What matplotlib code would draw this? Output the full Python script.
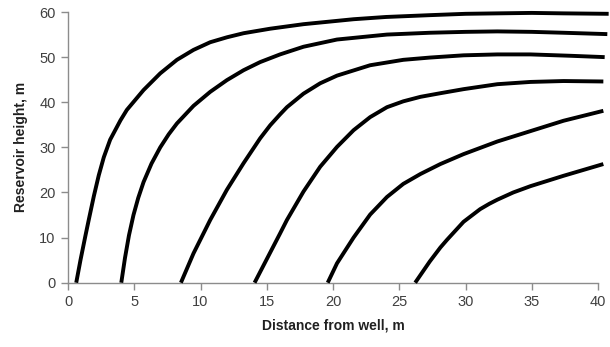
import matplotlib
matplotlib.use("Agg")
import matplotlib.pyplot as plt

# Distance from well (m) and reservoir height (m) for six curves
x1 = [0.62, 0.94, 1.32, 1.57, 1.95, 2.32, 2.70, 3.18, 3.96, 4.44, 5.70, 6.96, 8.22,
      9.47, 10.73, 12.0, 13.25, 15.26, 17.77, 21.55, 24.0, 27.3, 30.0, 32.4, 35.0, 37.4, 40.8]
y1 = [0.0, 5.0, 10.5, 14.0, 19.2, 23.8, 27.8, 31.7, 36.0, 38.3, 42.7, 46.4, 49.4,
      51.6, 53.3, 54.4, 55.3, 56.3, 57.3, 58.4, 58.9, 59.3, 59.6, 59.7, 59.8, 59.7, 59.6]

x2 = [4.02, 4.3, 4.6, 4.94, 5.3, 5.70, 6.3, 6.96, 7.6, 8.22, 9.47, 10.73, 11.99, 13.25,
      14.5, 16.0, 17.77, 20.3, 24.07, 27.3, 30.0, 32.4, 35.0, 37.4, 40.7]
y2 = [0.0, 5.5, 10.5, 15.0, 18.8, 22.3, 26.4, 30.0, 32.9, 35.3, 39.2, 42.3, 44.9, 47.1,
      48.9, 50.6, 52.3, 53.9, 55.0, 55.4, 55.6, 55.7, 55.6, 55.4, 55.1]

x3 = [8.52, 9.47, 10.73, 11.99, 13.25, 14.5, 15.26, 16.0, 16.52, 17.77, 19.03,
      20.3, 22.8, 25.3, 27.3, 29.85, 32.4, 34.9, 37.9, 40.5]
y3 = [0.0, 6.5, 13.9, 20.6, 26.5, 32.0, 34.9, 37.3, 38.9, 41.9, 44.2,
      45.9, 48.2, 49.4, 49.9, 50.4, 50.6, 50.6, 50.3, 50.0]

x4 = [14.08, 15.26, 16.0, 16.52, 17.77, 19.03, 20.3, 21.55, 22.8, 24.07, 25.3,
      26.6, 28.1, 29.85, 32.4, 34.9, 37.4, 40.4]
y4 = [0.0, 6.7, 10.9, 13.9, 20.2, 25.7, 30.1, 33.8, 36.7, 38.9, 40.2,
      41.2, 42.0, 42.9, 44.0, 44.5, 44.7, 44.6]

x5 = [19.6, 20.3, 21.55, 22.8, 24.07, 25.3, 26.6, 28.1, 29.85, 32.4, 34.9, 37.4, 40.4]
y5 = [0.0, 4.3, 10.0, 15.1, 19.0, 21.9, 24.1, 26.3, 28.5, 31.3, 33.6, 35.9, 38.1]

x6 = [26.2, 27.3, 28.1, 28.6, 29.85, 31.1, 31.8, 32.4, 33.6, 34.9, 37.4, 40.4]
y6 = [0.0, 4.7, 7.8, 9.5, 13.5, 16.3, 17.5, 18.4, 20.0, 21.4, 23.7, 26.3]

xticks = [0, 5, 10, 15, 20, 25, 30, 35, 40]
yticks = [0, 10, 20, 30, 40, 50, 60]

plt.rcParams['font.family'] = ['Liberation Sans', 'DejaVu Sans']

fig = plt.figure(figsize=(6.1, 3.47), dpi=100)
ax = fig.add_axes([0.1115, 0.1853, 0.8689, 0.7801])

for xs, ys in [(x1, y1), (x2, y2), (x3, y3), (x4, y4), (x5, y5), (x6, y6)]:
    ax.plot(xs, ys, color='black', lw=2.8, solid_capstyle='butt',
            solid_joinstyle='round', clip_on=False, zorder=3)

ax.set_xlim(0, 40)
ax.set_ylim(0, 60)
ax.set_xticks(xticks)
ax.set_yticks(yticks)

axis_col = '#8c8c8c'
for s in ['top', 'right']:
    ax.spines[s].set_visible(False)
for s in ['left', 'bottom']:
    ax.spines[s].set_color(axis_col)
    ax.spines[s].set_linewidth(1.0)
ax.tick_params(axis='both', direction='out', length=5, width=1.0,
               color=axis_col, labelsize=10.5, labelcolor='#404040', pad=4)

ax.set_xlabel('Distance from well, m', fontsize=10, fontweight='bold',
              color='#202020', labelpad=7)
ax.set_ylabel('Reservoir height, m', fontsize=10, fontweight='bold',
              color='#202020', labelpad=8)

fig.savefig('out.png', dpi=100)
